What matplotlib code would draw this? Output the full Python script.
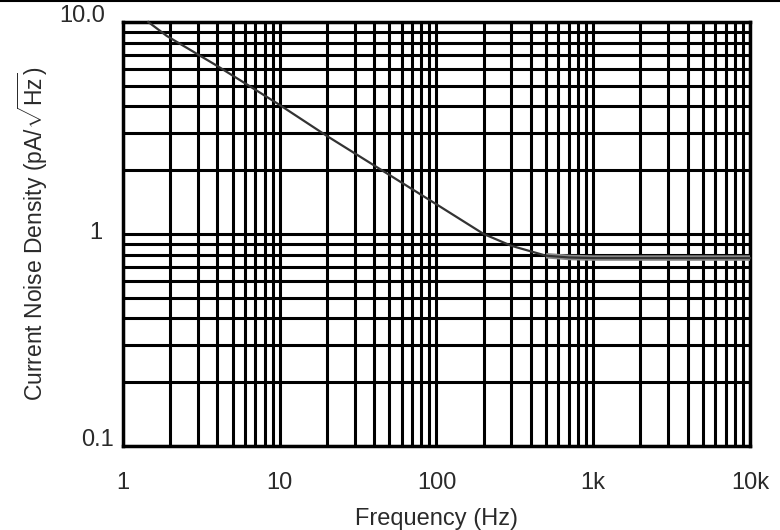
import matplotlib
matplotlib.use('Agg')
import matplotlib.pyplot as plt
from matplotlib.lines import Line2D
import matplotlib.transforms as mtransforms

plt.rcParams['font.family'] = ['Liberation Sans', 'DejaVu Sans']
plt.rcParams['mathtext.fontset'] = 'custom'
plt.rcParams['mathtext.rm'] = 'Liberation Sans'

# 噪声曲线 (Hz, pA/rtHz)
freq = [1.45, 1.9, 4, 10, 20, 50, 100, 200, 300, 500, 700, 1000, 10000]
noise = [10.0, 8.6, 6.2, 4.06, 2.9, 1.9, 1.38, 1.0, 0.88, 0.79, 0.775, 0.77, 0.77]

x_ticks = [1, 10, 100, 1000, 10000]
x_labels = ['1', '10', '100', '1k', '10k']
y_ticks = [0.1, 1, 10]
y_labels = ['0.1', '1', '10.0']

txt = '#2a2a2a'
fs = 17

fig = plt.figure(figsize=(7.8, 5.3), dpi=100)
ax = fig.add_axes([0.1577, 0.1585, 0.8038, 0.80])

ax.set_xscale('log')
ax.set_yscale('log')
ax.set_xlim(1, 10000)
ax.set_ylim(0.1, 10)

# 网格线
ax.grid(True, which='both', color='black', linewidth=2.2)
ax.set_axisbelow(True)
for s in ax.spines.values():
    s.set_linewidth(2.5)
    s.set_color('black')

# 平坦段灰色阴影
flat_f = [f for f in freq if f >= 500]
flat_n = [n for f, n in zip(freq, noise) if f >= 500]
ax.plot(flat_f, flat_n, color='#8a8a8a', linewidth=4, zorder=3, clip_on=False,
        solid_capstyle='butt')
ax.plot(freq, noise, color='#333333', linewidth=1.6, zorder=4, clip_on=False)

ax.set_xticks(x_ticks)
ax.set_xticklabels(x_labels)
ax.set_yticks(y_ticks)
ax.set_yticklabels([])
ax.tick_params(which='both', length=0)
ax.tick_params(axis='x', pad=19, labelsize=fs, labelcolor=txt)

# y轴标签单独放置 (右边缘各不相同)
ytrans = mtransforms.blended_transform_factory(fig.transFigure, ax.transData)
y_right = [114, 102, 105]
y_shift = [6, 0.5, 6]
for v, lab, xr, dy in zip(y_ticks, y_labels, y_right, y_shift):
    t = mtransforms.offset_copy(ytrans, fig=fig, x=0, y=dy, units='dots')
    ax.text(xr / 780.0, v, lab, transform=t, ha='right', va='center',
            fontsize=fs, color=txt)

ax.set_xlabel('Frequency (Hz)', fontsize=fs, color=txt, labelpad=10)
ax.set_ylabel(r'Current Noise Density (pA/$\sqrt{\mathrm{Hz}}$)', fontsize=fs - 0.5,
              color=txt, va='center')
lbl_trans = mtransforms.blended_transform_factory(fig.transFigure, ax.transAxes)
ax.yaxis.set_label_coords(33 / 780.0, 0.5, transform=lbl_trans)

# 顶部边线
fig.add_artist(Line2D([0, 1], [0.999, 0.999], color='black', linewidth=1.5,
                      transform=fig.transFigure))

fig.savefig('out.png', dpi=100)
